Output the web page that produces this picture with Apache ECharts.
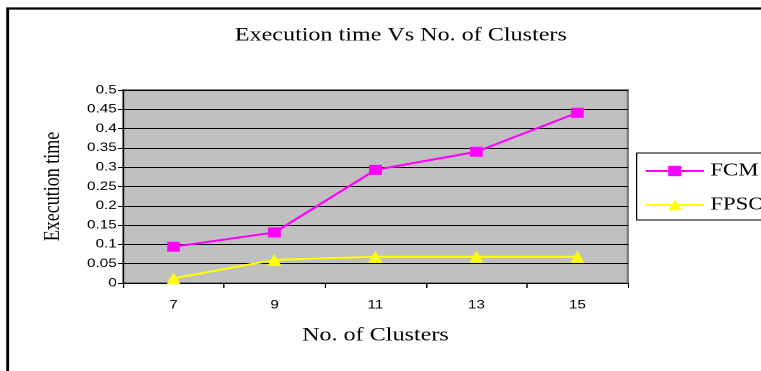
<!DOCTYPE html>
<html><head><meta charset="utf-8">
<script src="https://cdn.jsdelivr.net/npm/echarts@6/dist/echarts.min.js"></script>
<style>
html,body{margin:0;padding:0;background:#fff;overflow:hidden;width:761px;height:371px}
#c{width:600px;height:371px;transform:scaleX(1.268333);transform-origin:0 0}
</style>
</head><body><div id="c"></div>
<script>
const categories = ['7', '9', '11', '13', '15'];
const fcm = [0.094, 0.131, 0.293, 0.340, 0.441];
const fpso = [0.012, 0.060, 0.068, 0.068, 0.068];
const seriesNames = ['FCM', 'FPSO'];

const chart = echarts.init(document.getElementById('c'), null, {renderer: 'canvas', devicePixelRatio: 2});
const serif = 'Liberation Serif, Times New Roman, serif';
const sans = 'Liberation Sans, Arial, sans-serif';
chart.setOption({
  animation: false,
  backgroundColor: '#fff',
  graphic: [{
    type: 'rect', shape: {x: 6, y: 8.5, width: 700, height: 400},
    style: {fill: 'none', stroke: '#000', lineWidth: 2.2}, z: -1
  }],
  title: {
    text: 'Execution time Vs No. of Clusters',
    left: 311, top: 21, textAlign: 'center',
    textStyle: {fontFamily: serif, fontSize: 19, fontWeight: 'normal', color: '#000'}
  },
  legend: {
    orient: 'vertical', left: 502, top: 153,
    data: seriesNames,
    itemWidth: 46, itemHeight: 13, itemGap: 16,
    padding: [9, 60, 6, 6],
    borderColor: '#000', borderWidth: 1, backgroundColor: '#fff',
    textStyle: {fontFamily: serif, fontSize: 18, color: '#000'}
  },
  grid: {
    left: 97, top: 90, right: 105, bottom: 88,
    show: true, backgroundColor: '#c0c0c0', borderColor: '#808080', borderWidth: 2
  },
  xAxis: {
    type: 'category', data: categories, boundaryGap: true,
    name: 'No. of Clusters', nameLocation: 'middle', nameGap: 43,
    nameTextStyle: {fontFamily: serif, fontSize: 19, color: '#000'},
    axisLine: {lineStyle: {color: '#000', width: 1}},
    axisTick: {show: true, length: 5, lineStyle: {color: '#000'}},
    axisLabel: {fontFamily: sans, fontSize: 12, color: '#000', margin: 16},
    splitLine: {show: false}
  },
  yAxis: {
    type: 'value', min: 0, max: 0.5, interval: 0.05,
    name: 'Execution time', nameLocation: 'middle', nameGap: 46,
    nameTextStyle: {fontFamily: serif, fontSize: 18, color: '#000'},
    axisLine: {show: true, lineStyle: {color: '#000', width: 1}},
    axisTick: {show: true, length: 4, lineStyle: {color: '#000'}},
    axisLabel: {fontFamily: sans, fontSize: 12, color: '#000', margin: 5},
    splitLine: {show: true, lineStyle: {color: '#000', width: 1}}
  },
  series: [
    {name: 'FCM', type: 'line', data: fcm, symbol: 'rect', symbolSize: 10,
     lineStyle: {color: '#ff00ff', width: 2}, itemStyle: {color: '#ff00ff'}},
    {name: 'FPSO', type: 'line', data: fpso, symbol: 'triangle', symbolSize: [11, 12],
     lineStyle: {color: '#ffff00', width: 2}, itemStyle: {color: '#ffff00'}}
  ]
});
</script></body></html>
